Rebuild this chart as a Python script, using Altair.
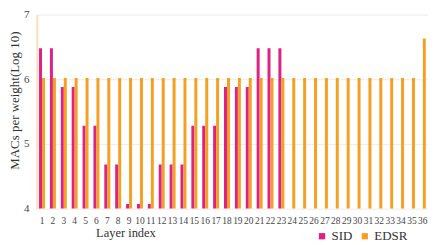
import altair as alt
import pandas as pd

layers = list(range(1, 37))
sid_vals = [6.48, 6.48, 5.88, 5.88, 5.28, 5.28, 4.68, 4.68, 4.07, 4.07, 4.07,
            4.68, 4.68, 4.68, 5.28, 5.28, 5.28, 5.88, 5.88, 5.88, 6.48, 6.48, 6.48]
edsr_vals = [6.02] * 35 + [6.63]

rows = []
for i, v in enumerate(sid_vals):
    rows.append({"layer": layers[i], "model": "SID", "value": v})
for i, v in enumerate(edsr_vals):
    rows.append({"layer": layers[i], "model": "EDSR", "value": v})
df = pd.DataFrame(rows)

FONT = "Liberation Serif"

chart = alt.Chart(df).mark_bar(clip=True).encode(
    x=alt.X("layer:O",
            scale=alt.Scale(paddingInner=0.45, paddingOuter=0.2),
            axis=alt.Axis(title="Layer index", labelAngle=0, ticks=False, domain=False,
                          labelPadding=7, labelFontSize=9.5, labelColor="#444",
                          titleFontSize=12.5, titleFontWeight="normal", titleColor="#333",
                          titleX=89, titleY=24, titleAlign="center", titleBaseline="middle",
                          labelFont=FONT, titleFont=FONT)),
    xOffset=alt.XOffset("model:N", sort=["SID", "EDSR"]),
    y=alt.Y("value:Q",
            scale=alt.Scale(domain=[4, 7], zero=False),
            axis=alt.Axis(title="MACs per weight(Log 10)", values=[4, 5, 6, 7],
                          ticks=False, domain=True, domainColor="#FBDDB8", domainWidth=2,
                          gridColor="#ececec", labelPadding=8, labelFontSize=11,
                          labelColor="#444", titleFontSize=13, titleFontWeight="normal",
                          titleColor="#333", titleX=-22, titleY=86, titleAngle=270,
                          titleAlign="center", titleBaseline="middle",
                          labelFont=FONT, titleFont=FONT)),
    color=alt.Color("model:N",
                    scale=alt.Scale(domain=["SID", "EDSR"], range=["#DC2287", "#F5A023"]),
                    legend=alt.Legend(title=None, orient="none", direction="horizontal",
                                      legendX=280, legendY=216, symbolType="square",
                                      symbolSize=40, labelFontSize=13, labelFont=FONT,
                                      labelColor="#333", columnPadding=6, labelOffset=3,
                                      symbolStrokeWidth=0)),
).properties(
    width=393, height=195,
    autosize=alt.AutoSizeParams(type="none"),
    padding={"left": 29, "top": 6, "right": 0, "bottom": 36},
).configure_view(stroke=None)

chart.save("out.html", embed_options={"renderer": "svg", "actions": False})
